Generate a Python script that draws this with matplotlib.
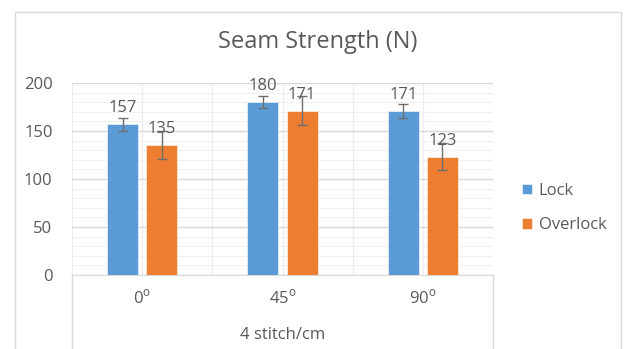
import numpy as np
import matplotlib.pyplot as plt
from matplotlib.lines import Line2D

categories = ['0$^{\\mathrm{o}}$', '45$^{\\mathrm{o}}$', '90$^{\\mathrm{o}}$']
group_label = '4 stitch/cm'
lock = [157, 180, 171]
overlock = [135, 171, 123]
lock_err = [7, 6.5, 7]
overlock_err = [14.5, 15, 14]

plt.rcParams['font.family'] = ['Open Sans', 'DejaVu Sans']
plt.rcParams['mathtext.fontset'] = 'custom'
plt.rcParams['mathtext.rm'] = 'Open Sans'
text_color = '#595959'
blue = '#5B9BD5'
orange = '#ED7D31'

W, H = 624, 349
fig = plt.figure(figsize=(W / 100, H / 100), dpi=100)

# plot area in pixels
x0, x1, ytop, ybot = 72, 493, 83, 275
ax = fig.add_axes([x0 / W, 1 - ybot / H, (x1 - x0) / W, (ybot - ytop) / H])

x = np.arange(len(categories))
offset = 0.14
width = 0.22
err_kw = dict(ecolor='#6e6e6e', elinewidth=1.0, capsize=3.5, capthick=1.0)
ax.bar(x - offset, lock, width, color=blue, edgecolor='white', linewidth=0.4,
       yerr=lock_err, error_kw=err_kw, label='Lock', zorder=3)
ax.bar(x + offset, overlock, width, color=orange, edgecolor='white', linewidth=0.4,
       yerr=overlock_err, error_kw=err_kw, label='Overlock', zorder=3)

for xi, v in zip(x - offset, lock):
    ax.annotate(str(v), (xi, v), xytext=(0, 6), textcoords='offset points',
                ha='center', va='bottom', fontsize=12, color=text_color, zorder=5)
for xi, v in zip(x + offset, overlock):
    ax.annotate(str(v), (xi, v), xytext=(0, 6), textcoords='offset points',
                ha='center', va='bottom', fontsize=12, color=text_color, zorder=5)

ax.set_xlim(-0.5, len(categories) - 0.5)
ax.set_ylim(0, 200)
ax.set_yticks(range(0, 201, 50))
ax.set_yticks(range(0, 201, 10), minor=True)
ax.tick_params(axis='y', which='both', length=0, labelsize=12, labelcolor=text_color, pad=14)
ax.tick_params(axis='x', length=0, labelbottom=False)
ax.grid(axis='y', which='major', color='#d9d9d9', linewidth=1.0, zorder=0)
ax.grid(axis='y', which='minor', color='#f0f0f0', linewidth=0.8, zorder=0)
for xv in np.arange(-0.5, len(categories), 0.5):
    ax.axvline(xv, color='#ececec', linewidth=0.8, zorder=1)
for s in ['top', 'right', 'left']:
    ax.spines[s].set_visible(False)
ax.spines['bottom'].set_color('#d9d9d9')

# category labels and group box below the axis
for xi, c in zip(x, categories):
    ax.text(xi, -24, c, ha='center', va='center', fontsize=12, color=text_color, clip_on=False)
ax.text(1, -63, group_label, ha='center', va='center', fontsize=12, color=text_color, clip_on=False)
for px in (x0, x1):
    fig.add_artist(Line2D([px / W, px / W], [1 - ybot / H, 0], color='#d9d9d9', linewidth=1.0))

# chart border
bx0, bx1, by0 = 15, 621, 12
fig.add_artist(Line2D([bx0 / W, bx0 / W, bx1 / W, bx1 / W], [0, 1 - by0 / H, 1 - by0 / H, 0],
                      color='#d9d9d9', linewidth=1.0))

fig.text(318 / W, 1 - 42 / H, 'Seam Strength (N)', ha='center', va='center',
         fontsize=17, color=text_color)

fig.legend(loc='center left', bbox_to_anchor=(507 / W, 1 - 208 / H), frameon=False,
           fontsize=12, labelcolor=text_color, handlelength=0.6, handleheight=0.6,
           handletextpad=0.4, labelspacing=1.1)

fig.savefig('out.png', dpi=100)
